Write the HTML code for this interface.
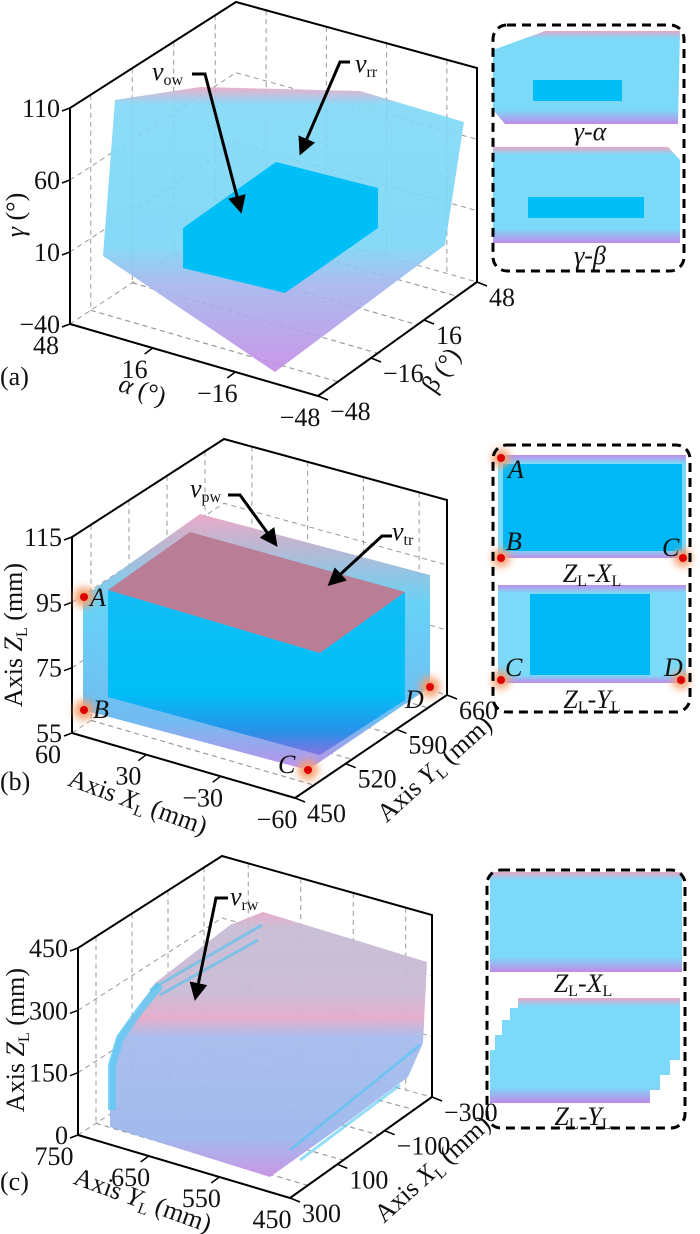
<!DOCTYPE html>
<html><head><meta charset="utf-8"><style>
html,body{margin:0;padding:0;background:#fff;}
svg{display:block;font-family:"Liberation Serif","DejaVu Serif",serif;}
.tk{font-size:26px;fill:#111;}
.tt{font-size:26px;fill:#111;}
.it{font-style:italic;}
.sub{font-size:16px;}
</style></head><body>
<svg id="fig" width="700" height="1234" viewBox="0 0 700 1234" xmlns="http://www.w3.org/2000/svg">
<defs>
<linearGradient id="ga" x1="0" y1="87" x2="0" y2="375" gradientUnits="userSpaceOnUse">
<stop offset="0" stop-color="#eaa6c6"/><stop offset="0.06" stop-color="#7fd8f6"/><stop offset="0.55" stop-color="#78d6f6"/><stop offset="0.68" stop-color="#a2b6ec"/><stop offset="1" stop-color="#c58ae6"/></linearGradient>
<linearGradient id="gbo" x1="0" y1="514" x2="0" y2="772" gradientUnits="userSpaceOnUse">
<stop offset="0" stop-color="#eaa6c6"/><stop offset="0.12" stop-color="#b9b4d0"/><stop offset="0.35" stop-color="#5fd0f6"/><stop offset="0.8" stop-color="#6ab8f0"/><stop offset="1" stop-color="#c08ae8"/></linearGradient>
<linearGradient id="gbi" x1="0" y1="600" x2="0" y2="756" gradientUnits="userSpaceOnUse">
<stop offset="0" stop-color="#10bdf5"/><stop offset="0.6" stop-color="#00bff7"/><stop offset="0.85" stop-color="#2a90e8"/><stop offset="1" stop-color="#8a70e0"/></linearGradient>
<linearGradient id="gc" x1="0" y1="912" x2="0" y2="1178" gradientUnits="userSpaceOnUse">
<stop offset="0" stop-color="#e7a8c8"/><stop offset="0.06" stop-color="#c6bcd4"/><stop offset="0.3" stop-color="#c9bad4"/><stop offset="0.4" stop-color="#e4aacb"/><stop offset="0.47" stop-color="#a6bcec"/><stop offset="0.85" stop-color="#9db6ec"/><stop offset="1" stop-color="#c990e4"/></linearGradient>
<linearGradient id="gin" x1="0" y1="0" x2="0" y2="1" >
<stop offset="0" stop-color="#eaa6c6"/><stop offset="0.08" stop-color="#7cd9f8"/><stop offset="0.85" stop-color="#7cd9f8"/><stop offset="1" stop-color="#c08ae8"/></linearGradient>
<linearGradient id="gin2" x1="0" y1="0" x2="0" y2="1">
<stop offset="0" stop-color="#c08ae8"/><stop offset="0.08" stop-color="#7cd9f8"/><stop offset="0.92" stop-color="#7cd9f8"/><stop offset="1" stop-color="#c08ae8"/></linearGradient>
<filter id="glow" x="-2" y="-2" width="5" height="5"><feGaussianBlur stdDeviation="4"/></filter>
<marker id="ah" markerWidth="6" markerHeight="6" refX="4" refY="3" orient="auto"><path d="M0,0 L6,3 L0,6 z" fill="#000"/></marker>
</defs>
<g id="grids"></g>
<polygon points="115,100 200,87 360,91 464,122 445,245 275,372 103,256" fill="url(#ga)" opacity="0.9"/>
<polygon points="183,228 276,162 378,188 378,228 285,293 183,268" fill="#00bff7"/>
<polygon points="83,597 200,514 430,575 430,687 308,770 83,710" fill="url(#gbo)" opacity="0.95"/>
<polygon points="108,590 320,653 405,592 405,700 320,755 108,697" fill="url(#gbi)"/>
<polygon points="108,590 190,532 405,592 320,653" fill="#b97d96"/>
<polygon points="155,983 230,925 263,912 427,962 423,1043 408,1077 350,1120 270,1177 110,1127 110,1063 117,1037 137,1010" fill="url(#gc)" opacity="0.95"/>
<path d="M112,1110 L112,1065 L120,1038 L140,1010 L160,985" stroke="#5ccaf4" stroke-width="8" fill="none" opacity="0.8"/>
<path d="M150,990 L262,925 M160,995 L258,940" stroke="#4cc2f0" stroke-width="3" fill="none" opacity="0.6"/>
<path d="M290,1150 L420,1045 M300,1160 L400,1085" stroke="#4cc6f4" stroke-width="3" fill="none" opacity="0.6"/>
<g id="frames"></g>
<g id="ticks"></g>
<g stroke="#000" stroke-width="3" fill="none">
<path d="M192,74 L205,74 L240,208" marker-end="url(#ah)"/>
<path d="M350,62 L340,62 L302,150" marker-end="url(#ah)"/>
<path d="M228,495 L240,495 L274,542" marker-end="url(#ah)"/>
<path d="M392,536 L382,536 L332,582" marker-end="url(#ah)"/>
<path d="M228,898 L216,898 L196,995" marker-end="url(#ah)"/>
</g>
<g>
<text class="tt it" x="152" y="80">v<tspan class="sub" font-style="normal" dy="5">ow</tspan></text>
<text class="tt it" x="355" y="72">v<tspan class="sub" font-style="normal" dy="5">rr</tspan></text>
<text class="tt it" x="190" y="497">v<tspan class="sub" font-style="normal" dy="5">pw</tspan></text>
<text class="tt it" x="392" y="540">v<tspan class="sub" font-style="normal" dy="5">tr</tspan></text>
<text class="tt it" x="230" y="905">v<tspan class="sub" font-style="normal" dy="5">rw</tspan></text>
</g>
<g>
<circle cx="84" cy="597" r="10" fill="#f5a070" filter="url(#glow)"/><circle cx="84" cy="597" r="4" fill="#d00"/>
<circle cx="84" cy="710" r="10" fill="#f5a070" filter="url(#glow)"/><circle cx="84" cy="710" r="4" fill="#d00"/>
<circle cx="308" cy="770" r="10" fill="#f5a070" filter="url(#glow)"/><circle cx="308" cy="770" r="4" fill="#d00"/>
<circle cx="430" cy="687" r="10" fill="#f5a070" filter="url(#glow)"/><circle cx="430" cy="687" r="4" fill="#d00"/>
<text class="tt it" x="90" y="606" font-size="22">A</text>
<text class="tt it" x="93" y="718" font-size="22">B</text>
<text class="tt it" x="278" y="773" font-size="22">C</text>
<text class="tt it" x="405" y="708" font-size="22">D</text>
</g>
<text class="tt" x="0" y="385">(a)</text>
<text class="tt" x="0" y="790">(b)</text>
<text class="tt" x="0" y="1190">(c)</text>
<text class="tt" transform="translate(24,215) rotate(-90)" text-anchor="middle"><tspan class="it">γ</tspan> (°)</text>
<text class="tt" transform="translate(140,398) rotate(18)" text-anchor="middle"><tspan class="it">α</tspan> (°)</text>
<text class="tt" transform="translate(448,375) rotate(-55)" text-anchor="middle">β (°)</text>
<text class="tt" transform="translate(22,635) rotate(-90)" text-anchor="middle">Axis <tspan class="it">Z</tspan><tspan class="sub" dy="5">L</tspan><tspan dy="-5"> (mm)</tspan></text>
<text class="tt" transform="translate(135,810) rotate(20)" text-anchor="middle">Axis <tspan class="it">X</tspan><tspan class="sub" dy="5">L</tspan><tspan dy="-5"> (mm)</tspan></text>
<text class="tt" transform="translate(440,775) rotate(-42)" text-anchor="middle">Axis <tspan class="it">Y</tspan><tspan class="sub" dy="5">L</tspan><tspan dy="-5"> (mm)</tspan></text>
<text class="tt" transform="translate(24,1040) rotate(-90)" text-anchor="middle">Axis <tspan class="it">Z</tspan><tspan class="sub" dy="5">L</tspan><tspan dy="-5"> (mm)</tspan></text>
<text class="tt" transform="translate(140,1208) rotate(20)" text-anchor="middle">Axis <tspan class="it">Y</tspan><tspan class="sub" dy="5">L</tspan><tspan dy="-5"> (mm)</tspan></text>
<text class="tt" transform="translate(438,1175) rotate(-42)" text-anchor="middle">Axis <tspan class="it">X</tspan><tspan class="sub" dy="5">L</tspan><tspan dy="-5"> (mm)</tspan></text>
<g>
<polygon points="493,50 545,31 680,31 678,124 505,124 493,110" fill="url(#gin)"/>
<rect x="533" y="80" width="89" height="21" fill="#00bff7"/>
<polygon points="493,147 668,147 680,160 680,243 493,243" fill="url(#gin)"/>
<rect x="528" y="197" width="116" height="21" fill="#00bff7"/>
<text class="tt it" x="590" y="140" text-anchor="middle" font-size="22">γ-α</text>
<text class="tt it" x="590" y="264" text-anchor="middle" font-size="22">γ-β</text>
<rect x="493" y="25" width="191" height="246" rx="14" fill="none" stroke="#000" stroke-width="3" stroke-dasharray="9,6"/>
</g>
<g>
<rect x="498" y="455" width="188" height="103" fill="url(#gin2)"/>
<rect x="503" y="464" width="179" height="87" fill="#00b8f5"/>
<rect x="498" y="585" width="188" height="98" fill="url(#gin2)"/>
<rect x="530" y="594" width="120" height="81" fill="#00b8f5"/>
<g><circle cx="501" cy="458" r="9" fill="#f5a070" filter="url(#glow)"/><circle cx="501" cy="458" r="4" fill="#d00"/>
<circle cx="501" cy="558" r="9" fill="#f5a070" filter="url(#glow)"/><circle cx="501" cy="558" r="4" fill="#d00"/>
<circle cx="683" cy="558" r="9" fill="#f5a070" filter="url(#glow)"/><circle cx="683" cy="558" r="4" fill="#d00"/>
<circle cx="501" cy="680" r="9" fill="#f5a070" filter="url(#glow)"/><circle cx="501" cy="680" r="4" fill="#d00"/>
<circle cx="681" cy="680" r="9" fill="#f5a070" filter="url(#glow)"/><circle cx="681" cy="680" r="4" fill="#d00"/></g>
<text class="tt it" x="508" y="478" font-size="20">A</text><text class="tt it" x="506" y="550" font-size="20">B</text><text class="tt it" x="662" y="556" font-size="20">C</text>
<text class="tt it" x="505" y="676" font-size="20">C</text><text class="tt it" x="664" y="676" font-size="20">D</text>
<text class="tt it" x="592" y="582" text-anchor="middle" font-size="22">Z<tspan class="sub" font-style="normal" dy="4">L</tspan><tspan dy="-4">-X</tspan><tspan class="sub" font-style="normal" dy="4">L</tspan></text>
<text class="tt it" x="592" y="708" text-anchor="middle" font-size="22">Z<tspan class="sub" font-style="normal" dy="4">L</tspan><tspan dy="-4">-Y</tspan><tspan class="sub" font-style="normal" dy="4">L</tspan></text>
<rect x="493" y="445" width="197" height="267" rx="14" fill="none" stroke="#000" stroke-width="3" stroke-dasharray="9,6"/>
</g>
<g>
<rect x="490" y="872" width="192" height="100" fill="url(#gin)"/>
<polygon points="518,998 680,998 680,1060 670,1060 670,1075 660,1075 660,1090 650,1090 650,1103 490,1103 490,1050 495,1050 495,1035 502,1035 502,1020 510,1020 510,1008 518,1008" fill="url(#gin)"/>
<text class="tt it" x="583" y="992" text-anchor="middle" font-size="22">Z<tspan class="sub" font-style="normal" dy="4">L</tspan><tspan dy="-4">-X</tspan><tspan class="sub" font-style="normal" dy="4">L</tspan></text>
<text class="tt it" x="583" y="1125" text-anchor="middle" font-size="22">Z<tspan class="sub" font-style="normal" dy="4">L</tspan><tspan dy="-4">-Y</tspan><tspan class="sub" font-style="normal" dy="4">L</tspan></text>
<rect x="487" y="870" width="198" height="258" rx="14" fill="none" stroke="#000" stroke-width="3" stroke-dasharray="9,6"/>
</g>
</svg>
<script>
const aZTicks=["110","60","10","−40"];
const aAlphaTicks=["48","16","−16","−48"];
const aBetaTicks=["−48","−16","16","48"];
const bZTicks=["115","95","75","55"];
const bXTicks=["60","30","−30","−60"];
const bYTicks=["450","520","590","660"];
const cZTicks=["450","300","150","0"];
const cYTicks=["750","650","550","450"];
const cXTicks=["300","100","−100","−300"];
const NS="http://www.w3.org/2000/svg";
function mk(tag,attrs,parent){const e=document.createElementNS(NS,tag);for(const k in attrs)e.setAttribute(k,attrs[k]);parent.appendChild(e);return e;}
function lerp(a,b,t){return [a[0]+(b[0]-a[0])*t,a[1]+(b[1]-a[1])*t];}
const panels=[
 {n:"a",Lt:[70,108],Lb:[70,324],Bt:[236,2],Bb:[236,214],Rt:[477,68],Rb:[477,282],Fb:[318,396],z:aZTicks,x:aAlphaTicks,y:aBetaTicks},
 {n:"b",Lt:[72,537],Lb:[72,733],Bt:[224,439],Bb:[224,632],Rt:[447,500],Rb:[447,695],Fb:[295,798],z:bZTicks,x:bXTicks,y:bYTicks},
 {n:"c",Lt:[78,948],Lb:[78,1135],Bt:[222,856],Bb:[222,1042],Rt:[432,915],Rb:[432,1097],Fb:[290,1198],z:cZTicks,x:cYTicks,y:cXTicks}
];
const grids=document.getElementById('grids'),frames=document.getElementById('frames'),ticks=document.getElementById('ticks');
panels.forEach(p=>{
 const gs={stroke:"#999","stroke-width":1,"stroke-dasharray":"5,4",fill:"none"};
 const nz=p.z.length;
 for(let i=0;i<nz;i++){const t=i/(nz-1);
  const a=lerp(p.Lt,p.Lb,t),b=lerp(p.Bt,p.Bb,t),c=lerp(p.Rt,p.Rb,t);
  const l=mk('polyline',Object.assign({points:`${a} ${b} ${c}`},gs),grids);
  
  
  const tk=mk('line',{x1:a[0],y1:a[1],x2:a[0]-8,y2:a[1]+3,stroke:"#000","stroke-width":1.5},ticks);
  
  
  const tx=mk('text',{x:a[0]-10,y:a[1]+9,"text-anchor":"end",class:"tk"},ticks);tx.textContent=p.z[i];
  
  
 }
 const nx=p.x.length;
 for(let i=0;i<nx;i++){const t=(i+0.5)/nx;
  const wt=lerp(p.Lt,p.Bt,t),wb=lerp(p.Lb,p.Bb,t);
  const v=mk('polyline',Object.assign({points:`${wt} ${wb}`},gs),grids);
  
  
  const fl=mk('polyline',Object.assign({points:`${lerp(p.Lb,p.Bb,t)} ${lerp(p.Fb,p.Rb,t)}`},gs),grids);
  
  
  const wt2=lerp(p.Bt,p.Rt,t),wb2=lerp(p.Bb,p.Rb,t);
  const v2=mk('polyline',Object.assign({points:`${wt2} ${wb2}`},gs),grids);
  
  
  const fl2=mk('polyline',Object.assign({points:`${lerp(p.Bb,p.Lb,t)} ${lerp(p.Rb,p.Fb,t)}`},gs),grids);
  
  
 }
 for(let i=0;i<nx;i++){const t=i/(nx-1);const pt=lerp(p.Lb,p.Fb,t);
  const tx=mk('text',{x:pt[0]-18-(i==0?6:0),y:pt[1]+30,"text-anchor":"middle",class:"tk"},ticks);tx.textContent=p.x[i];
  
  
  if(i>0&&i<nx-1){const tk=mk('line',{x1:pt[0],y1:pt[1],x2:pt[0]-8,y2:pt[1]+6,stroke:"#000","stroke-width":1.5},ticks);
  
  }
 }
 const ny=p.y.length;
 for(let i=0;i<ny;i++){const t=i/(ny-1);const pt=lerp(p.Fb,p.Rb,t);
  const tx=mk('text',{x:pt[0]+12,y:pt[1]+24,"text-anchor":"start",class:"tk"},ticks);tx.textContent=p.y[i];
  
  
  const tk=mk('line',{x1:pt[0],y1:pt[1],x2:pt[0]+10,y2:pt[1]+4,stroke:"#000","stroke-width":1.5},ticks);
  
  
 }
 const fr=mk('polyline',{points:`${p.Lb} ${p.Lt} ${p.Bt} ${p.Rt} ${p.Rb} ${p.Fb} ${p.Lb}`,fill:"none",stroke:"#000","stroke-width":2},frames);
 
 
});
</script>
</body></html>
